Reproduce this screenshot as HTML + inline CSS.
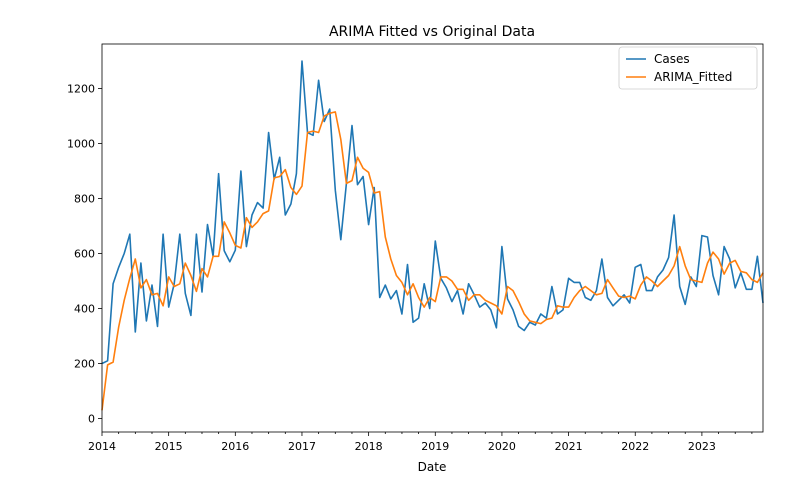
<!DOCTYPE html>
<html><head><meta charset="utf-8"><style>
body{margin:0;background:#fff;font-family:"Liberation Sans",sans-serif}
svg text{font-family:"DejaVu Sans","Liberation Sans",sans-serif;fill:#000}
</style></head><body>
<svg id="chart" width="802" height="486" xmlns="http://www.w3.org/2000/svg">
<text x="432" y="36" font-size="14" text-anchor="middle">ARIMA Fitted vs Original Data</text>
<g id="axes"></g>
<g id="series"></g>
<rect x="102" y="44" width="661" height="388" fill="none" stroke="#000" stroke-width="0.8"/>
<text x="432" y="471" font-size="12" text-anchor="middle">Date</text>
<g>
<rect x="619" y="47" width="138" height="42" rx="3" fill="#fff" stroke="#ccc" stroke-width="0.8"/>
<line x1="626" y1="59" x2="646" y2="59" stroke="#1f77b4" stroke-width="1.6"/>
<text x="654" y="63" font-size="12">Cases</text>
<line x1="626" y1="77" x2="646" y2="77" stroke="#ff7f0e" stroke-width="1.6"/>
<text x="654" y="81" font-size="12">ARIMA_Fitted</text>
</g>
</svg>
<script>
const startYear = 2014;
const yTicks = [0,200,400,600,800,1000,1200];
const xTickLabels = ["2014","2015","2016","2017","2018","2019","2020","2021","2022","2023"];
const cases = [200,210,490,550,600,670,315,565,355,485,335,670,
405,490,670,455,375,670,460,705,590,890,610,570,
612,900,625,740,785,765,1040,870,950,740,780,890,
1300,1040,1030,1230,1080,1125,830,650,855,1065,850,880,
705,840,440,485,435,465,380,560,350,365,490,400,
645,510,475,425,465,380,490,450,405,420,395,330,
625,435,395,335,320,350,340,380,365,480,380,395,
510,495,495,440,430,465,580,440,410,430,450,420,
550,560,465,465,515,540,585,740,480,415,515,480,
665,660,520,450,625,580,475,530,470,470,590,420];
const fitted = [30,195,205,333,430,510,580,475,505,450,455,410,
515,480,490,565,520,462,545,515,590,590,715,675,
630,620,730,695,715,745,755,875,880,905,840,815,
845,1040,1045,1040,1100,1110,1115,1015,855,865,950,910,
895,820,825,660,580,520,495,450,490,440,405,440,
425,515,515,500,470,470,430,450,450,430,420,410,
380,480,465,425,380,355,350,345,360,365,410,405,
405,440,465,480,465,450,455,505,475,445,440,445,
435,485,515,500,480,500,520,555,625,555,505,500,
495,565,605,580,525,565,575,535,530,505,495,530];
const L=102,R=763,T=44,B=432;
const n=cases.length;
const monthX = m => L + m*(R-L)/(n-1);
const yS = v => 418.5 - v*0.275;
const NS="http://www.w3.org/2000/svg";
const axes=document.getElementById('axes'), series=document.getElementById('series');
function mk(tag,attrs,parent){const e=document.createElementNS(NS,tag);for(const k in attrs)e.setAttribute(k,attrs[k]);parent.appendChild(e);return e;}
yTicks.forEach(v=>{
  const y=yS(v);
  const t=mk('line',{x1:L-4,x2:L,y1:y,y2:y,stroke:'#000','stroke-width':0.8},axes);
  
  
  const tx=mk('text',{x:L-7,y:y+4,'font-size':11,'text-anchor':'end'},axes);
  tx.textContent=v;
  
  
});
for(let m=0;m<n;m+=3){
  const x=monthX(m);
  const major=m%12===0;
  const t=mk('line',{x1:x,x2:x,y1:B,y2:B+(major?4:2),stroke:'#000','stroke-width':0.8},axes);
  
  
}
xTickLabels.forEach((lab,i)=>{
  const tx=mk('text',{x:monthX(i*12),y:B+18,'font-size':11,'text-anchor':'middle'},axes);
  tx.textContent=lab;
  
  
});
function line(data,color,name){
  const d=data.map((v,i)=>(i?'L':'M')+monthX(i).toFixed(1)+','+yS(v).toFixed(1)).join('');
  const p=mk('path',{d:d,fill:'none',stroke:color,'stroke-width':1.6,'stroke-linejoin':'round'},series);
  
  
}
line(cases,'#1f77b4','cases-line');
line(fitted,'#ff7f0e','arima-fitted-line');
</script>
</body></html>
